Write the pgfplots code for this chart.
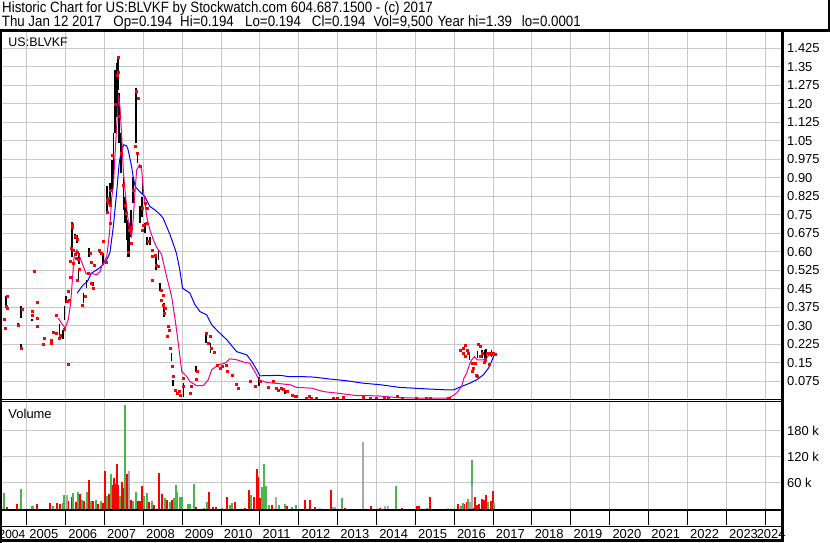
\documentclass[border=0pt]{standalone}
\usepackage{fontspec}
\setmainfont{Liberation Sans}
\newfontfamily\hdrfont{Liberation Sans}[FakeStretch=0.89]
\usepackage{pgfplots}
\pgfplotsset{compat=1.18}

\definecolor{gridgray}{RGB}{200,200,200}
\definecolor{volgreen}{RGB}{77,179,77}
\definecolor{volgray}{RGB}{168,168,168}
\newcommand\lbl{\fontsize{13}{15}\selectfont}
\newcommand\hdr{\hdrfont\fontsize{15}{18}\selectfont}

% volume, thousands of shares
\pgfplotstableread{
x v
2004.49 5.4
2004.74 12.3
2005.26 12.3
2005.60 14.6
2005.79 14.6
2005.86 12.3
2006.07 18.5
2006.16 26.9
2006.26 16.9
2006.37 33.8
2006.48 18.5
2006.60 66.9
2006.71 18.5
2006.84 12.3
2006.96 14.6
2007.01 87.7
2007.11 33.8
2007.19 55.4
2007.25 72.3
2007.29 56.9
2007.32 103.9
2007.36 55.4
2007.44 61.5
2007.47 49.2
2007.59 80.8
2007.68 20.8
2007.86 18.5
2007.91 18.5
2007.97 53.8
2008.15 16.9
2008.28 9.2
2008.40 82.3
2008.47 33.8
2008.60 20.8
2008.74 20.8
2009.36 5.4
2009.70 40.0
2009.80 5.4
2009.87 5.4
2010.15 26.9
2010.36 15.4
2010.62 1.5
2010.73 43.8
2010.85 26.9
2010.92 92.3
2010.96 74.6
2011.00 26.2
2011.30 9.2
2011.69 6.9
2012.16 20.8
2012.29 20.8
2012.42 5.4
2012.82 43.8
2013.19 3.1
2013.86 6.9
2014.09 3.1
2014.65 3.1
2015.03 6.9
2015.10 6.9
2015.38 28.5
2016.10 12.3
2016.26 10.8
2016.32 15.4
2016.49 1.5
2016.53 28.5
2016.58 9.2
2016.64 10.8
2016.71 22.3
2016.77 20.8
2016.82 32.3
2016.94 18.5
2016.99 41.5
}\volred
\pgfplotstableread{
x v
2004.42 37.7
2004.85 46.2
2005.13 6.9
2005.17 6.9
2005.68 6.9
2005.93 14.6
2005.97 32.3
2006.20 36.2
2006.31 40.0
2006.43 20.8
2006.54 38.5
2006.65 18.5
2006.78 20.8
2006.90 18.5
2007.06 30.8
2007.17 80.8
2007.40 30.8
2007.53 240.0
2007.73 18.5
2007.81 40.0
2008.02 30.8
2008.09 36.9
2008.22 18.5
2008.56 24.6
2008.69 16.9
2008.79 24.6
2008.83 55.4
2008.88 40.0
2008.94 28.5
2008.99 28.5
2009.16 10.8
2009.20 10.8
2009.31 56.9
2009.56 3.1
2009.63 15.4
2010.02 3.1
2010.23 9.2
2010.29 13.1
2010.76 32.3
2011.06 51.5
2011.11 103.9
2011.16 53.8
2011.24 9.2
2011.50 9.2
2011.65 10.8
2011.82 5.4
2011.93 9.2
2013.10 26.2
2014.50 53.8
2015.29 3.1
2016.17 6.9
2016.22 13.1
2016.36 22.3
2016.45 113.0
2016.88 15.4
2017.02 13.1
}\volgreen
\pgfplotstableread{
x v
2006.03 32.3
2007.63 87.7
2011.41 26.9
2012.55 3.1
2012.89 5.4
2012.93 5.4
2013.64 153.8
2014.22 6.9
2014.30 6.9
2015.85 1.5
2016.40 16.9
2016.45 55.4
}\volgrey

\pgfplotsset{chartx/.style={xmin=2004.365, xmax=2024.42, width=779.5bp,
  scale only axis, anchor=south west, axis line style={draw=none},
  tick style={draw=none}, xtick={2005,...,2024}, xticklabels={},
  yticklabel pos=right,
  yticklabel style={anchor=west, inner sep=0pt, xshift=5.5bp, font=\lbl},
  grid=major, major grid style={draw=gridgray, line width=1bp}}}

\begin{document}
\begin{tikzpicture}
\useasboundingbox (0,0) rectangle (830bp,543bp);
\fill[white] (0,0) rectangle (830bp,543bp);

% price panel
\begin{axis}[chartx, at={(2bp,143bp)}, height=369bp, ymin=0, ymax=1.495,
  ytick={0.075,0.15,0.225,0.3,0.375,0.45,0.525,0.6,0.675,0.75,0.825,0.9,0.975,1.05,1.125,1.2,1.275,1.35,1.425},
  yticklabels={0.075,0.15,0.225,0.30,0.375,0.45,0.525,0.60,0.675,0.75,0.825,0.90,0.975,1.05,1.125,1.20,1.275,1.35,1.425}]
% daily high-low ranges
\addplot[black, line width=1.6bp, unbounded coords=jump, mark=none] coordinates {
(2004.47,0.372)(2004.47,0.42)(2004.47,nan)
(2004.86,0.332)(2004.86,0.381)(2004.86,nan)
(2004.77,0.30)(2004.77,0.31)(2004.77,nan)
(2004.85,0.208)(2004.85,0.228)(2004.85,nan)
(2005.13,0.32)(2005.13,0.33)(2005.13,nan)
(2005.84,0.251)(2005.84,0.309)(2005.84,nan)
(2005.93,0.249)(2005.93,0.284)(2005.93,nan)
(2005.97,0.325)(2005.97,0.379)(2005.97,nan)
(2006.01,0.394)(2006.01,0.422)(2006.01,nan)
(2006.17,0.581)(2006.17,0.723)(2006.17,nan)
(2006.24,0.652)(2006.24,0.673)(2006.24,nan)
(2006.30,0.635)(2006.30,0.669)(2006.30,nan)
(2006.33,0.487)(2006.33,0.527)(2006.33,nan)
(2006.34,0.55)(2006.34,0.595)(2006.34,nan)
(2006.46,0.392)(2006.46,0.433)(2006.46,nan)
(2006.54,0.453)(2006.54,0.487)(2006.54,nan)
(2006.61,0.581)(2006.61,0.615)(2006.61,nan)
(2006.70,0.46)(2006.70,0.48)(2006.70,nan)
(2006.87,0.595)(2006.87,0.608)(2006.87,nan)
(2006.97,0.548)(2006.97,0.595)(2006.97,nan)
(2007.07,0.757)(2007.07,0.865)(2007.07,nan)
(2007.14,0.784)(2007.14,0.878)(2007.14,nan)
(2007.19,0.851)(2007.19,0.973)(2007.19,nan)
(2007.23,0.892)(2007.23,1.081)(2007.23,nan)
(2007.27,1.081)(2007.27,1.337)(2007.27,nan)
(2007.32,1.148)(2007.32,1.365)(2007.32,nan)
(2007.35,1.256)(2007.35,1.391)(2007.35,nan)
(2007.38,1.04)(2007.38,1.243)(2007.38,nan)
(2007.42,0.919)(2007.42,1.081)(2007.42,nan)
(2007.49,0.77)(2007.49,0.905)(2007.49,nan)
(2007.53,0.716)(2007.53,0.824)(2007.53,nan)
(2007.57,0.65)(2007.57,0.80)(2007.57,nan)
(2007.59,0.622)(2007.59,0.73)(2007.59,nan)
(2007.61,0.581)(2007.61,0.70)(2007.61,nan)
(2007.64,0.58)(2007.64,0.716)(2007.64,nan)
(2007.68,0.662)(2007.68,0.77)(2007.68,nan)
(2007.74,0.797)(2007.74,0.905)(2007.74,nan)
(2007.81,1.04)(2007.81,1.263)(2007.81,nan)
(2007.85,0.959)(2007.85,1.0)(2007.85,nan)
(2007.91,0.716)(2007.91,0.784)(2007.91,nan)
(2007.97,0.743)(2007.97,0.824)(2007.97,nan)
(2007.98,0.831)(2007.98,0.892)(2007.98,nan)
(2008.04,0.676)(2008.04,0.716)(2008.04,nan)
(2008.09,0.628)(2008.09,0.662)(2008.09,nan)
(2008.17,0.628)(2008.17,0.662)(2008.17,nan)
(2008.33,0.527)(2008.33,0.581)(2008.33,nan)
(2008.39,0.568)(2008.39,0.608)(2008.39,nan)
(2008.43,0.44)(2008.43,0.473)(2008.43,nan)
(2008.53,0.338)(2008.53,0.392)(2008.53,nan)
(2008.73,0.156)(2008.73,0.19)(2008.73,nan)
(2008.77,0.055)(2008.77,0.082)(2008.77,nan)
(2009.03,0.014)(2009.03,0.068)(2009.03,nan)
(2009.35,0.115)(2009.35,0.136)(2009.35,nan)
(2009.61,0.23)(2009.61,0.277)(2009.61,nan)
(2009.73,0.19)(2009.73,0.23)(2009.73,nan)
(2010.98,0.055)(2010.98,0.095)(2010.98,nan)
(2011.65,0.025)(2011.65,0.041)(2011.65,nan)
(2016.39,0.163)(2016.39,0.183)(2016.39,nan)
(2016.60,0.17)(2016.60,0.20)(2016.60,nan)
(2016.72,0.17)(2016.72,0.203)(2016.72,nan)
(2016.79,0.165)(2016.79,0.203)(2016.79,nan)
(2016.82,0.163)(2016.82,0.205)(2016.82,nan)
(2016.96,0.176)(2016.96,0.203)
};
% long moving average
\addplot[blue, line width=1bp, mark=none] coordinates {
(2006.30,0.433)(2006.37,0.449)(2006.46,0.467)(2006.56,0.480)(2006.67,0.514)
(2006.80,0.527)(2006.89,0.537)(2007.06,0.568)(2007.14,0.595)(2007.23,0.703)
(2007.32,0.851)(2007.38,0.960)(2007.44,1.013)(2007.50,1.034)(2007.57,1.030)
(2007.61,1.013)(2007.70,0.946)(2007.74,0.905)(2007.79,0.865)(2007.91,0.844)
(2008.04,0.824)(2008.17,0.784)(2008.30,0.770)(2008.43,0.752)(2008.51,0.737)
(2008.60,0.703)(2008.69,0.669)(2008.80,0.620)(2008.86,0.590)(2008.94,0.527)
(2009.01,0.453)(2009.20,0.433)(2009.33,0.386)(2009.46,0.358)(2009.63,0.345)
(2009.76,0.305)(2009.93,0.277)(2010.15,0.244)(2010.40,0.196)(2010.66,0.183)
(2010.79,0.156)(2010.92,0.122)(2011.00,0.098)(2011.52,0.100)(2011.73,0.095)
(2012.03,0.095)(2012.37,0.093)(2012.80,0.085)(2013.23,0.078)(2013.66,0.068)
(2014.09,0.062)(2014.60,0.051)(2015.29,0.045)(2015.81,0.041)(2015.98,0.041)
(2016.19,0.055)(2016.40,0.068)(2016.58,0.082)(2016.75,0.102)(2016.88,0.129)
(2016.96,0.156)(2017.03,0.183)
};
% short moving average
\addplot[magenta, line width=1bp, mark=none] coordinates {
(2005.81,0.332)(2005.90,0.311)(2005.99,0.291)(2006.07,0.325)(2006.13,0.392)
(2006.18,0.494)(2006.22,0.581)(2006.29,0.608)(2006.33,0.595)(2006.41,0.561)
(2006.46,0.540)(2006.53,0.511)(2006.63,0.514)(2006.80,0.507)(2006.89,0.520)
(2006.93,0.541)(2007.06,0.581)(2007.13,0.676)(2007.19,0.824)(2007.23,0.865)
(2007.27,0.986)(2007.32,1.121)(2007.36,1.229)(2007.40,1.189)(2007.44,1.081)
(2007.49,0.919)(2007.57,0.784)(2007.64,0.689)(2007.70,0.662)(2007.74,0.730)
(2007.79,0.851)(2007.83,0.932)(2007.90,0.953)(2007.96,0.932)(2008.00,0.851)
(2008.09,0.743)(2008.17,0.689)(2008.26,0.649)(2008.34,0.620)(2008.47,0.590)
(2008.60,0.500)(2008.73,0.419)(2008.82,0.325)(2008.90,0.230)(2008.99,0.115)
(2009.12,0.095)(2009.20,0.075)(2009.37,0.058)(2009.54,0.058)(2009.67,0.082)
(2009.76,0.122)(2009.93,0.143)(2010.10,0.149)(2010.23,0.167)(2010.40,0.163)
(2010.62,0.152)(2010.74,0.149)(2010.87,0.115)(2010.98,0.082)(2011.17,0.071)
(2011.52,0.066)(2011.77,0.062)(2011.95,0.051)(2012.33,0.048)(2012.63,0.034)
(2012.98,0.028)(2013.49,0.018)(2014.00,0.017)(2014.52,0.010)(2014.95,0.008)
(2015.81,0.008)(2015.93,0.014)(2016.06,0.028)(2016.19,0.055)(2016.25,0.089)
(2016.32,0.109)(2016.39,0.143)(2016.45,0.163)(2016.52,0.176)(2016.58,0.163)
(2016.75,0.163)(2016.83,0.170)(2016.90,0.183)(2017.00,0.187)
};
% closing prices
\addplot[only marks, mark=square*, mark size=1bp, red] coordinates {
(2004.50,0.419)(2004.47,0.381)(2004.51,0.371)(2004.43,0.326)(2004.46,0.290)
(2004.88,0.368)(2004.78,0.305)(2004.86,0.209)
(2005.20,0.520)(2005.28,0.395)(2005.15,0.358)(2005.15,0.345)(2005.28,0.333)
(2005.28,0.298)(2005.44,0.249)(2005.42,0.228)(2005.64,0.244)(2005.64,0.229)
(2005.77,0.345)(2005.68,0.273)(2005.75,0.269)(2005.87,0.264)(2005.86,0.257)
(2005.97,0.288)(2005.84,0.250)
(2006.06,0.147)(2006.03,0.400)(2006.07,0.441)(2006.09,0.406)(2006.11,0.496)
(2006.17,0.714)(2006.18,0.700)(2006.14,0.616)(2006.20,0.608)(2006.29,0.597)
(2006.32,0.570)(2006.12,0.561)(2006.19,0.554)(2006.34,0.531)(2006.31,0.486)
(2006.25,0.665)(2006.29,0.652)(2006.24,0.590)(2006.27,0.575)(2006.44,0.386)
(2006.50,0.419)(2006.58,0.514)(2006.63,0.595)(2006.67,0.557)(2006.70,0.453)
(2006.67,0.473)(2006.74,0.548)(2006.87,0.606)(2006.93,0.595)(2006.97,0.642)
(2007.04,0.557)(2007.06,0.811)(2007.10,0.797)(2007.14,0.716)
(2007.07,0.759)(2007.14,0.791)(2007.16,0.851)(2007.10,0.818)(2007.21,0.993)
(2007.27,1.200)(2007.32,1.317)(2007.35,1.389)(2007.36,1.330)(2007.38,1.150)
(2007.42,1.000)(2007.49,0.872)(2007.53,0.791)(2007.57,0.757)(2007.64,0.689)
(2007.70,0.635)(2007.61,0.600)(2007.68,0.700)(2007.74,0.850)(2007.80,1.027)
(2007.83,1.250)(2007.87,1.223)(2007.85,1.000)(2007.91,0.946)(2008.04,0.797)
(2008.00,0.710)(2007.96,0.689)
(2007.96,0.777)(2008.10,0.777)(2008.07,0.716)(2008.13,0.642)(2008.22,0.608)
(2008.30,0.588)(2008.22,0.581)(2008.33,0.548)(2008.39,0.541)(2008.22,0.487)
(2008.45,0.446)(2008.50,0.426)(2008.47,0.406)(2008.51,0.386)(2008.56,0.372)
(2008.53,0.352)(2008.64,0.298)(2008.67,0.284)(2008.62,0.257)(2008.70,0.210)
(2008.74,0.136)(2008.77,0.095)(2008.82,0.041)(2008.86,0.028)(2008.93,0.034)
(2008.96,0.021)
(2009.03,0.089)(2009.03,0.055)(2009.20,0.028)(2009.24,0.055)(2009.36,0.085)
(2009.39,0.115)(2009.63,0.271)(2009.67,0.230)(2009.73,0.257)(2009.76,0.210)
(2009.82,0.192)(2009.89,0.143)(2009.97,0.129)
(2010.02,0.136)(2010.13,0.143)(2010.16,0.115)(2010.30,0.102)(2010.40,0.062)
(2010.44,0.048)(2010.74,0.075)(2010.87,0.055)(2011.00,0.075)
(2011.22,0.052)(2011.33,0.075)(2011.43,0.048)(2011.47,0.038)(2011.59,0.044)
(2011.69,0.034)(2011.56,0.048)(2011.82,0.021)(2011.90,0.014)(2011.93,0.016)
(2012.20,0.008)(2012.27,0.017)(2012.33,0.006)(2012.46,0.006)(2012.89,0.006)
(2013.00,0.006)(2013.15,0.010)(2013.66,0.010)(2013.85,0.006)(2014.00,0.006)
(2014.20,0.006)(2014.30,0.006)(2014.53,0.014)(2014.65,0.006)(2015.03,0.006)
(2015.29,0.006)(2015.38,0.006)(2015.85,0.006)(2015.88,0.006)
(2016.15,0.200)(2016.23,0.210)(2016.29,0.220)(2016.22,0.190)(2016.34,0.200)
(2016.36,0.190)(2016.45,0.149)(2016.49,0.129)(2016.45,0.115)(2016.56,0.102)
(2016.58,0.098)(2016.62,0.226)(2016.66,0.217)(2016.71,0.190)(2016.79,0.163)
(2016.77,0.155)(2016.89,0.147)(2016.99,0.190)(2016.94,0.185)(2017.05,0.187)
(2016.28,0.179)(2016.53,0.149)(2016.66,0.176)(2016.85,0.190)(2016.92,0.190)
};
\end{axis}

% volume panel
\begin{axis}[chartx, at={(2bp,34bp)}, height=107bp, ymin=0, ymax=246.9,
  ytick={60,120,180}, yticklabels={60 k,120 k,180 k}]
\addplot[ycomb, draw=red, line width=2bp, mark=none] table[x=x, y=v] {\volred};
\addplot[ycomb, draw=volgreen, line width=2bp, mark=none] table[x=x, y=v] {\volgreen};
\addplot[ycomb, draw=volgray, line width=2bp, mark=none] table[x=x, y=v] {\volgrey};
\end{axis}

% year strip
\begin{axis}[xmin=2004.365, xmax=2024.42, width=779.5bp, height=31bp,
  scale only axis, anchor=south west, at={(2bp,2bp)}, ymin=0, ymax=31,
  hide axis, clip=false]
\pgfplotsinvokeforeach{2005,...,2024}{
  \draw[black, line width=1bp] (axis cs:#1,16.3) -- (axis cs:#1,31);}
\pgfplotsinvokeforeach{2005,...,2023}{
  \node[anchor=base west, inner sep=0pt, xshift=2.6bp, font=\lbl] at (axis cs:#1,2) {#1};}
\node[anchor=base east, inner sep=0pt, xshift=-1.2bp, font=\fontsize{12}{14}\selectfont] at (axis cs:2005,2) {2004};
\node[anchor=base west, inner sep=0pt, xshift=-8.6bp, font=\lbl] at (axis cs:2024,2) {2024};
\end{axis}

\begin{scope}[x=1bp, y=1bp]
% frame
\draw[line width=2.7bp] (0,512.3) -- (830,512.3);
\draw[line width=2.3bp] (828.9,511) -- (828.9,543);
\draw[line width=2bp] (1,0) -- (1,512.3);
\draw[line width=1bp] (0,143.5) -- (782,143.5);
\draw[line width=1.3bp] (0,141.3) -- (782,141.3);
\draw[line width=2bp] (0,33.2) -- (782,33.2);
\draw[line width=1.3bp] (0,16.3) -- (782,16.3);
\draw[line width=2.3bp] (0,2.5) -- (783,2.5);
\draw[line width=2.5bp] (782.5,1.3) -- (782.5,512.3);
% panel captions
\node[anchor=base west, inner sep=0pt, font=\fontsize{12.5}{15}\selectfont] at (8.3,496.5) {US:BLVKF};
\node[anchor=base west, inner sep=0pt, font=\lbl] at (8.3,124.7) {Volume};
% header
\node[anchor=base west, inner sep=0pt, font=\hdr] at (2,530) {Historic Chart for US:BLVKF by Stockwatch.com 604.687.1500 - (c) 2017};
\node[anchor=base west, inner sep=0pt, font=\hdr] at (1.7,516.5) {Thu Jan 12 2017};
\node[anchor=base west, inner sep=0pt, font=\hdr] at (113.3,516.5) {Op=0.194};
\node[anchor=base west, inner sep=0pt, font=\hdr] at (180,516.5) {Hi=0.194};
\node[anchor=base west, inner sep=0pt, font=\hdr] at (245,516.5) {Lo=0.194};
\node[anchor=base west, inner sep=0pt, font=\hdr] at (311.7,516.5) {Cl=0.194};
\node[anchor=base west, inner sep=0pt, font=\hdr] at (373.3,516.5) {Vol=9,500};
\node[anchor=base west, inner sep=0pt, font=\hdr] at (437.3,516.5) {Year hi=1.39};
\node[anchor=base west, inner sep=0pt, font=\hdr] at (521.7,516.5) {lo=0.0001};
\end{scope}
\end{tikzpicture}
\end{document}
